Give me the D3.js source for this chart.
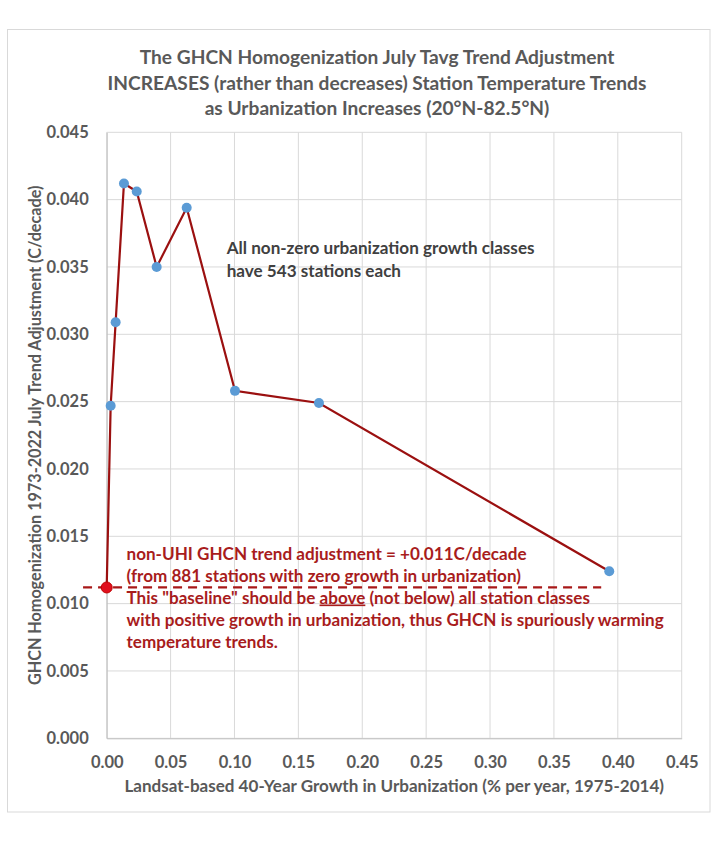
<!DOCTYPE html>
<html>
<head>
<meta charset="utf-8">
<script src="https://cdn.jsdelivr.net/npm/d3@7"></script>
<style>
  html, body { margin: 0; padding: 0; background: #fff; }
  svg { display: block; }
</style>
</head>
<body>
<svg id="chart" width="720" height="864"></svg>
<script>
// ---- data ----
const growth = [0, 0.0031, 0.0070, 0.0135, 0.0235, 0.0391, 0.0626, 0.1004, 0.1661, 0.3933];
const adjustment = [0.0112, 0.0247, 0.0309, 0.0412, 0.0406, 0.0350, 0.0394, 0.0258, 0.0249, 0.0124];
const baselineValue = 0.0112;
const baselineExtent = [-0.0185, 0.387];
const xTicks = [0, 0.05, 0.10, 0.15, 0.20, 0.25, 0.30, 0.35, 0.40, 0.45];
const yTicks = [0, 0.005, 0.010, 0.015, 0.020, 0.025, 0.030, 0.035, 0.040, 0.045];
const titleLines = [
  "The GHCN Homogenization July Tavg Trend Adjustment",
  "INCREASES (rather than decreases) Station Temperature Trends",
  "as Urbanization Increases (20°N-82.5°N)"
];
const xLabel = "Landsat-based 40-Year Growth in Urbanization (% per year, 1975-2014)";
const yLabel = "GHCN Homogenization 1973-2022 July Trend Adjustment (C/decade)";
const noteLines = ["All non-zero urbanization growth classes", "have 543 stations each"];
const redLines = [
  ["non-UHI GHCN trend adjustment = +0.011C/decade"],
  ["(from 881 stations with zero growth in urbanization)"],
  ["This \"baseline\" should be ", "above", " (not below) all station classes"],
  ["with positive growth in urbanization, thus GHCN is spuriously warming"],
  ["temperature trends."]
];

// ---- layout ----
const svg = d3.select("#chart");
const FONT = "Lato, Carlito, Calibri, 'Open Sans', sans-serif";
const GRAY = "#595959";
const DARKRED = "#a81c1c";
const plot = {left: 106.7, right: 681.7, top: 132.3, bottom: 738.3};

const x = d3.scaleLinear().domain([0, 0.45]).range([plot.left, plot.right]);
const y = d3.scaleLinear().domain([0, 0.045]).range([plot.bottom, plot.top]);

svg.append("rect").attr("x", 0).attr("y", 0).attr("width", 720).attr("height", 864).attr("fill", "#fff");
svg.append("rect").attr("x", 7.5).attr("y", 29.5).attr("width", 702.5).attr("height", 782.5)
  .attr("fill", "none").attr("stroke", "#d9d9d9").attr("stroke-width", 1);

function fit(sel, target) {
  const w = sel.node().getComputedTextLength();
  const fs = parseFloat(sel.attr("font-size"));
  const nf = fs * target / w;
  sel.attr("font-size", nf);
  return nf;
}

// gridlines
svg.append("g").selectAll("line").data(xTicks).join("line")
  .attr("x1", d => x(d)).attr("x2", d => x(d))
  .attr("y1", plot.top).attr("y2", plot.bottom)
  .attr("stroke", "#d9d9d9").attr("stroke-width", 1);
svg.append("g").selectAll("line").data(yTicks).join("line")
  .attr("x1", plot.left).attr("x2", plot.right)
  .attr("y1", d => y(d)).attr("y2", d => y(d))
  .attr("stroke", "#d9d9d9").attr("stroke-width", 1);

// axes
const xAxis = svg.append("g").attr("transform", `translate(0,${plot.bottom})`)
  .call(d3.axisBottom(x).tickValues(xTicks).tickFormat(d3.format(".2f")).tickSize(0).tickPadding(18));
xAxis.select(".domain").attr("stroke", "#bfbfbf");
xAxis.selectAll("text").attr("font-family", FONT).attr("font-size", 16.5).attr("font-weight", "bold").attr("fill", GRAY);

const yAxis = svg.append("g").attr("transform", `translate(${plot.left},0)`)
  .call(d3.axisLeft(y).tickValues(yTicks).tickFormat(d3.format(".3f")).tickSize(0).tickPadding(18));
yAxis.select(".domain").attr("stroke", "#bfbfbf");
yAxis.selectAll("text").attr("font-family", FONT).attr("font-size", 16.5).attr("font-weight", "bold").attr("fill", GRAY);

// title (Calibri-like: taller glyphs, narrower set)
const titleY = [64, 89.5, 114.5];
const titleG = svg.append("g");
const titleSel = titleG.selectAll("text").data(titleLines).join("text")
  .attr("x", 0).attr("y", 0)
  .attr("text-anchor", "middle").attr("font-family", FONT).attr("font-weight", "bold")
  .attr("font-size", 19.5).attr("fill", GRAY).text(d => d);
const tw = titleSel.nodes()[1].getComputedTextLength();
const tsx = 539 / tw;
titleSel.attr("transform", (d, i) => `translate(377,${titleY[i]}) scale(${tsx},1)`);

// axis labels
const xl = svg.append("text").attr("x", 0).attr("y", 0)
  .attr("text-anchor", "middle").attr("font-family", FONT).attr("font-weight", "bold")
  .attr("font-size", 16.5).attr("fill", GRAY).text(xLabel);
const xlw = xl.node().getComputedTextLength();
xl.attr("transform", `translate(${(plot.left + plot.right) / 2},792) scale(${540 / xlw},1)`);

const yl = svg.append("text").attr("x", 0).attr("y", 0)
  .attr("text-anchor", "middle").attr("font-family", FONT).attr("font-weight", "bold")
  .attr("font-size", 16.5).attr("fill", GRAY).text(yLabel);
const ylw = yl.node().getComputedTextLength();
yl.attr("transform", `translate(41,${(plot.top + plot.bottom) / 2}) rotate(-90) scale(${500 / ylw},1)`);

// baseline dashed line
svg.append("line")
  .attr("x1", x(baselineExtent[0])).attr("x2", x(baselineExtent[1]))
  .attr("y1", y(baselineValue)).attr("y2", y(baselineValue))
  .attr("stroke", "#a81818").attr("stroke-width", 2.2).attr("stroke-dasharray", "9,6");

// series line
const pts = growth.map((g, i) => [g, adjustment[i]]);
svg.append("path").datum(pts)
  .attr("d", d3.line().x(d => x(d[0])).y(d => y(d[1])))
  .attr("fill", "none").attr("stroke", "#9b1010").attr("stroke-width", 2.2);

// markers
svg.append("g").selectAll("circle").data(pts.slice(1)).join("circle")
  .attr("cx", d => x(d[0])).attr("cy", d => y(d[1])).attr("r", 5)
  .attr("fill", "#5b9bd5");
svg.append("circle").attr("cx", x(pts[0][0])).attr("cy", y(pts[0][1])).attr("r", 5.5)
  .attr("fill", "#e0101e").attr("stroke", "#c00000").attr("stroke-width", 1);

// gray note
const noteSel = svg.append("g").selectAll("text").data(noteLines).join("text")
  .attr("x", 0).attr("y", 0)
  .attr("font-family", FONT).attr("font-weight", "bold").attr("font-size", 16.5)
  .attr("fill", "#404040").text(d => d);
const nw = noteSel.nodes()[0].getComputedTextLength();
noteSel.attr("transform", (d, i) => `translate(226.7,${254.3 + i * 22.4}) scale(${308 / nw},1)`);

// red annotation
const redY = [560, 582, 603.5, 625.5, 647.5];
const redSel = svg.append("g").selectAll("text").data(redLines).join("text")
  .attr("x", 0).attr("y", 0)
  .attr("font-family", FONT).attr("font-weight", "bold").attr("font-size", 16.5)
  .attr("fill", DARKRED);
redSel.selectAll("tspan").data(d => d).join("tspan")
  .attr("text-decoration", d => (d === "above" ? "underline" : null))
  .text(d => d);
const rw = redSel.nodes()[3].getComputedTextLength();
redSel.attr("transform", (d, i) => `translate(126.5,${redY[i]}) scale(${537 / rw},1)`);
</script>
</body>
</html>
